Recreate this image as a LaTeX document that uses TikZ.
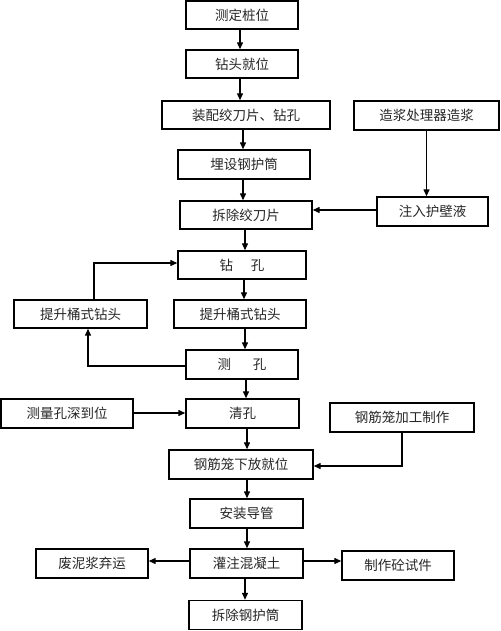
\documentclass[tikz,border=0pt]{standalone}
\usepackage{fontspec}
\setmainfont{Noto Sans CJK SC}
\usetikzlibrary{arrows.meta,calc}
\begin{document}
\begin{tikzpicture}[x=1pt,y=-1pt,
  box/.style={draw=black,line width=1.4pt,inner sep=0pt,minimum height=28pt,
    font=\fontsize{13.5pt}{14pt}\selectfont,text=black!85},
  arr/.style={line width=1.3pt,-{Triangle[length=7pt,width=6pt]}}]
\useasboundingbox (0,0) rectangle (500,631);
\newcommand{\tx}[1]{\raisebox{-3.5pt}{#1}}
\node[box,minimum width=112pt,minimum height=28pt] (b1) at (242,15) {\tx{测定桩位}};
\node[box,minimum width=112pt,minimum height=28pt] (b2) at (242,64) {\tx{钻头就位}};
\node[box,minimum width=168pt,minimum height=28pt] (b3) at (246,115) {\tx{装配绞刀片、钻孔}};
\node[box,minimum width=145pt,minimum height=29pt] (zj) at (426.5,115.5) {\tx{造浆处理器造浆}};
\node[box,minimum width=132pt,minimum height=29pt] (b4) at (244,164.5) {\tx{埋设钢护筒}};
\node[box,minimum width=132pt,minimum height=28pt] (b5) at (246,215) {\tx{拆除绞刀片}};
\node[box,minimum width=111pt,minimum height=29pt] (zr) at (432.5,211.5) {\tx{注入护壁液}};
\node[box,minimum width=128pt,minimum height=28pt] (b6) at (242,265) {\tx{钻\hspace{1.3em}孔}};
\node[box,minimum width=133pt,minimum height=28pt] (tl) at (80.5,314) {\tx{提升桶式钻头}};
\node[box,minimum width=132pt,minimum height=28pt] (b7) at (240,314) {\tx{提升桶式钻头}};
\node[box,minimum width=112pt,minimum height=29pt] (b8) at (242,364.5) {\tx{测\hspace{1.6em}孔}};
\node[box,minimum width=113pt,minimum height=29pt] (b9) at (242.5,413.5) {\tx{清孔}};
\node[box,minimum width=132pt,minimum height=29pt] (cl) at (67,413.5) {\tx{测量孔深到位}};
\node[box,minimum width=144pt,minimum height=29pt] (gj) at (402,417.5) {\tx{钢筋笼加工制作}};
\node[box,minimum width=144pt,minimum height=29pt] (b10) at (241,464.5) {\tx{钢筋笼下放就位}};
\node[box,minimum width=113pt,minimum height=29pt] (b11) at (246.5,513.5) {\tx{安装导管}};
\node[box,minimum width=113pt,minimum height=29pt] (b12) at (246.5,563.5) {\tx{灌注混凝土}};
\node[box,minimum width=112pt,minimum height=29pt] (fn) at (92,563.5) {\tx{废泥浆弃运}};
\node[box,minimum width=112pt,minimum height=29pt] (zz) at (398,565.5) {\tx{制作砼试件}};
\node[box,minimum width=113pt,minimum height=29pt] (b13) at (245.5,615) {\tx{拆除钢护筒}};
% main vertical flow
\draw[arr] ([xshift=-2pt]b1.south) -- ([xshift=-2pt]b1.south |- b2.north);
\draw[arr] ([xshift=-2pt]b2.south) -- ([xshift=-2pt]b2.south |- b3.north);
\draw[arr] ([xshift=-3pt]b3.south) -- ([xshift=-3pt]b3.south |- b4.north);
\draw[arr] ([xshift=-1pt]b4.south) -- ([xshift=-1pt]b4.south |- b5.north);
\draw[arr] ([xshift=-1pt]b5.south) -- ([xshift=-1pt]b5.south |- b6.north);
\draw[arr] ([xshift=2pt]b6.south) -- ([xshift=2pt]b6.south |- b7.north);
\draw[arr] ([xshift=5pt]b7.south) -- ([xshift=5pt]b7.south |- b8.north);
\draw[arr] ([xshift=4pt]b8.south) -- ([xshift=4pt]b8.south |- b9.north);
\draw[arr] ([xshift=4.5pt]b9.south) -- ([xshift=4.5pt]b9.south |- b10.north);
\draw[arr] ([xshift=6pt]b10.south) -- ([xshift=6pt]b10.south |- b11.north);
\draw[arr] ([xshift=0.5pt]b11.south) -- ([xshift=0.5pt]b11.south |- b12.north);
\draw[arr] ([xshift=-1.5pt]b12.south) -- ([xshift=-1.5pt]b12.south |- b13.north);
% side flows
\draw[arr] (zj.south) -- (zj.south |- zr.north);
\draw[arr] ([yshift=1.5pt]zr.west) -- ([yshift=1.5pt]zr.west -| b5.east);
\draw[arr] ([xshift=13.5pt]tl.north) |- ([yshift=2pt]b6.west);
\draw[arr] ([yshift=-1.5pt]b8.west) -| ([xshift=7.5pt]tl.south);
\draw[arr] ([yshift=0.5pt]cl.east) -- ([yshift=0.5pt]cl.east -| b9.west);
\draw[arr] (gj.south) |- ([yshift=-1.5pt]b10.east);
\draw[arr] ([yshift=2.5pt]b12.west) -- ([yshift=2.5pt]b12.west -| fn.east);
\draw[arr] ([yshift=2.5pt]b12.east) -- ([yshift=2.5pt]b12.east -| zz.west);
\end{tikzpicture}
\end{document}
